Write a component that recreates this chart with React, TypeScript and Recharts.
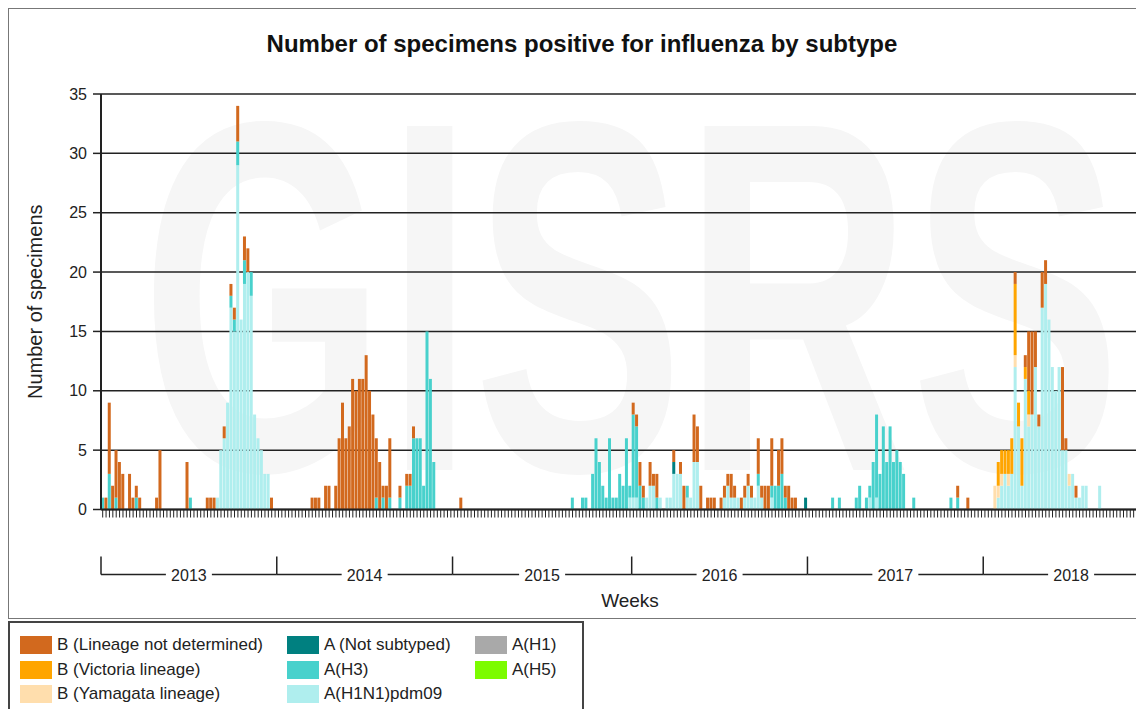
import React from "react";
import { BarChart, Bar, XAxis, YAxis, CartesianGrid } from "recharts";

// weekly counts, one row of values per year (2015 has 53 weeks)
const YEARS = [2013, 2014, 2015, 2016, 2017, 2018];
const WEEKS_IN_YEAR = [52, 52, 53, 52, 52, 52];
const Y_TICKS = [0, 5, 10, 15, 20, 25, 30, 35];

const bNotDetermined = [
  // 2013
  0, 1, 6, 2, 4, 4, 3, 0, 3, 1, 1, 1, 0, 0, 0, 0, 1, 5, 0, 0, 0, 0, 0, 0, 0, 4,
  0, 0, 0, 0, 0, 1, 1, 1, 0, 0, 1, 0, 1, 1, 3, 0, 2, 2, 0, 0, 0, 0, 0, 0, 1, 0,
  // 2014
  0, 0, 0, 0, 0, 0, 0, 0, 0, 0, 1, 1, 1, 0, 2, 2, 0, 2, 6, 9, 6, 7, 11, 10, 11, 11,
  13, 10, 8, 5, 4, 1, 2, 5, 0, 0, 1, 0, 1, 1, 1, 0, 0, 0, 0, 0, 0, 0, 0, 0, 0, 0,
  // 2015
  0, 0, 1, 0, 0, 0, 0, 0, 0, 0, 0, 0, 0, 0, 0, 0, 0, 0, 0, 0, 0, 0, 0, 0, 0, 0,
  0, 0, 0, 0, 0, 0, 0, 0, 0, 0, 0, 0, 0, 0, 0, 0, 0, 0, 0, 0, 0, 0, 0, 0, 0, 0, 0,
  // 2016
  1, 1, 2, 1, 0, 2, 1, 2, 0, 0, 0, 0, 1, 0, 1, 2, 0, 0, 4, 3, 2, 0, 1, 1, 1, 0,
  1, 1, 1, 2, 1, 0, 1, 1, 1, 1, 0, 3, 1, 2, 2, 4, 0, 3, 3, 1, 2, 1, 1, 0, 0, 0,
  // 2017
  0, 0, 0, 0, 0, 0, 0, 0, 0, 0, 0, 0, 0, 0, 0, 0, 0, 0, 0, 0, 0, 0, 0, 0, 0, 0,
  0, 0, 0, 0, 0, 0, 0, 0, 0, 0, 0, 0, 0, 0, 0, 0, 0, 0, 1, 0, 0, 1, 0, 0, 0, 0,
  // 2018
  0, 0, 0, 0, 0, 0, 0, 0, 0, 1, 0, 0, 1, 5, 7, 3, 1, 3, 2, 0, 0, 0, 0, 7, 1, 0,
  0, 1, 0, 0, 0, 0, 0, 0, 0, 0, 0, 0, 0, 0, 0, 0, 0, 0, 0, 0, 0, 0, 0, 0, 0, 0,
];

const bVictoria = [
  // 2013
  0, 0, 0, 0, 0, 0, 0, 0, 0, 0, 0, 0, 0, 0, 0, 0, 0, 0, 0, 0, 0, 0, 0, 0, 0, 0,
  0, 0, 0, 0, 0, 0, 0, 0, 0, 0, 0, 0, 0, 0, 0, 0, 0, 0, 0, 0, 0, 0, 0, 0, 0, 0,
  // 2014
  0, 0, 0, 0, 0, 0, 0, 0, 0, 0, 0, 0, 0, 0, 0, 0, 0, 0, 0, 0, 0, 0, 0, 0, 0, 0,
  0, 0, 0, 0, 0, 0, 0, 0, 0, 0, 0, 0, 0, 0, 0, 0, 0, 0, 0, 0, 0, 0, 0, 0, 0, 0,
  // 2015
  0, 0, 0, 0, 0, 0, 0, 0, 0, 0, 0, 0, 0, 0, 0, 0, 0, 0, 0, 0, 0, 0, 0, 0, 0, 0,
  0, 0, 0, 0, 0, 0, 0, 0, 0, 0, 0, 0, 0, 0, 0, 0, 0, 0, 0, 0, 0, 0, 0, 0, 0, 0, 0,
  // 2016
  0, 0, 0, 0, 0, 0, 0, 0, 0, 0, 0, 0, 0, 0, 0, 0, 0, 0, 0, 0, 0, 0, 0, 0, 0, 0,
  0, 0, 0, 0, 0, 0, 0, 0, 0, 0, 0, 0, 0, 0, 0, 0, 0, 0, 0, 0, 0, 0, 0, 0, 0, 0,
  // 2017
  0, 0, 0, 0, 0, 0, 0, 0, 0, 0, 0, 0, 0, 0, 0, 0, 0, 0, 0, 0, 0, 0, 0, 0, 0, 0,
  0, 0, 0, 0, 0, 0, 0, 0, 0, 0, 0, 0, 0, 0, 0, 0, 0, 0, 0, 0, 0, 0, 0, 0, 0, 0,
  // 2018
  0, 0, 0, 0, 2, 2, 2, 2, 3, 6, 2, 4, 1, 2, 0, 0, 0, 0, 0, 0, 0, 0, 0, 0, 0, 0,
  0, 0, 0, 0, 0, 0, 0, 0, 0, 0, 0, 0, 0, 0, 0, 0, 0, 0, 0, 0, 0, 0, 0, 0, 0, 0,
];

const bYamagata = [
  // 2013
  0, 0, 0, 0, 0, 0, 0, 0, 0, 0, 0, 0, 0, 0, 0, 0, 0, 0, 0, 0, 0, 0, 0, 0, 0, 0,
  0, 0, 0, 0, 0, 0, 0, 0, 0, 0, 0, 0, 0, 0, 0, 0, 0, 0, 0, 0, 0, 0, 0, 0, 0, 0,
  // 2014
  0, 0, 0, 0, 0, 0, 0, 0, 0, 0, 0, 0, 0, 0, 0, 0, 0, 0, 0, 0, 0, 0, 0, 0, 0, 0,
  0, 0, 0, 0, 0, 0, 0, 0, 0, 0, 0, 0, 0, 0, 0, 0, 0, 0, 0, 0, 0, 0, 0, 0, 0, 0,
  // 2015
  0, 0, 0, 0, 0, 0, 0, 0, 0, 0, 0, 0, 0, 0, 0, 0, 0, 0, 0, 0, 0, 0, 0, 0, 0, 0,
  0, 0, 0, 0, 0, 0, 0, 0, 0, 0, 0, 0, 0, 0, 0, 0, 0, 0, 0, 0, 0, 0, 0, 0, 0, 0, 0,
  // 2016
  0, 0, 0, 0, 0, 0, 0, 0, 0, 0, 0, 0, 0, 0, 0, 0, 0, 0, 0, 0, 0, 0, 0, 0, 0, 0,
  0, 0, 0, 0, 0, 0, 0, 0, 0, 0, 0, 0, 0, 0, 0, 0, 0, 0, 0, 0, 0, 0, 0, 0, 0, 0,
  // 2017
  0, 0, 0, 0, 0, 0, 0, 0, 0, 0, 0, 0, 0, 0, 0, 0, 0, 0, 0, 0, 0, 0, 0, 0, 0, 0,
  0, 0, 0, 0, 0, 0, 0, 0, 0, 0, 0, 0, 0, 0, 0, 0, 0, 0, 0, 0, 0, 0, 0, 0, 0, 0,
  // 2018
  0, 0, 0, 2, 1, 1, 0, 1, 0, 1, 0, 0, 0, 1, 0, 0, 0, 0, 0, 0, 0, 0, 0, 0, 0, 1,
  0, 0, 0, 0, 0, 0, 0, 0, 0, 0, 0, 0, 0, 0, 0, 0, 0, 0, 0, 0, 0, 0, 0, 0, 0, 0,
];

const aNotSubtyped = [
  // 2013
  0, 0, 0, 0, 0, 0, 0, 0, 0, 0, 0, 0, 0, 0, 0, 0, 0, 0, 0, 0, 0, 0, 0, 0, 0, 0,
  0, 0, 0, 0, 0, 0, 0, 0, 0, 0, 0, 0, 0, 0, 0, 0, 0, 0, 0, 0, 0, 0, 0, 0, 0, 0,
  // 2014
  0, 0, 0, 0, 0, 0, 0, 0, 0, 0, 0, 0, 0, 0, 0, 0, 0, 0, 0, 0, 0, 0, 0, 0, 0, 0,
  0, 0, 0, 0, 0, 0, 0, 0, 0, 0, 0, 0, 0, 0, 0, 0, 0, 0, 0, 0, 0, 0, 0, 0, 0, 0,
  // 2015
  0, 0, 0, 0, 0, 0, 0, 0, 0, 0, 0, 0, 0, 0, 0, 0, 0, 0, 0, 0, 0, 0, 0, 0, 0, 0,
  0, 0, 0, 0, 0, 0, 0, 0, 0, 0, 0, 0, 0, 0, 0, 0, 0, 0, 0, 0, 0, 0, 0, 0, 0, 0, 0,
  // 2016
  0, 0, 0, 0, 0, 0, 0, 0, 0, 0, 0, 0, 1, 0, 0, 0, 0, 0, 0, 0, 0, 0, 0, 0, 0, 0,
  0, 0, 0, 0, 0, 0, 0, 0, 0, 0, 0, 0, 0, 0, 0, 0, 0, 0, 0, 0, 0, 0, 0, 0, 0, 1,
  // 2017
  0, 0, 0, 0, 0, 0, 0, 0, 0, 0, 0, 0, 0, 0, 0, 0, 0, 0, 0, 0, 0, 0, 0, 0, 0, 0,
  0, 0, 0, 0, 0, 0, 0, 0, 0, 0, 0, 0, 0, 0, 0, 0, 0, 0, 0, 0, 0, 0, 0, 0, 0, 0,
  // 2018
  0, 0, 0, 0, 0, 0, 0, 0, 0, 0, 0, 0, 0, 0, 0, 0, 0, 0, 0, 0, 0, 0, 0, 0, 0, 0,
  0, 0, 0, 0, 0, 0, 0, 0, 0, 0, 0, 0, 0, 0, 0, 0, 0, 0, 0, 0, 0, 0, 0, 0, 0, 0,
];

const aH3 = [
  // 2013
  1, 0, 3, 0, 1, 0, 0, 0, 0, 0, 1, 0, 0, 0, 0, 0, 0, 0, 0, 0, 0, 0, 0, 0, 0, 0,
  1, 0, 0, 0, 0, 0, 0, 0, 0, 0, 0, 0, 1, 1, 2, 0, 2, 0, 2, 0, 0, 0, 0, 0, 0, 0,
  // 2014
  0, 0, 0, 0, 0, 0, 0, 0, 0, 0, 0, 0, 0, 0, 0, 0, 0, 0, 0, 0, 0, 0, 0, 0, 0, 0,
  0, 0, 0, 1, 0, 1, 0, 1, 0, 0, 1, 0, 2, 2, 6, 6, 6, 2, 15, 11, 4, 0, 0, 0, 0, 0,
  // 2015
  0, 0, 0, 0, 0, 0, 0, 0, 0, 0, 0, 0, 0, 0, 0, 0, 0, 0, 0, 0, 0, 0, 0, 0, 0, 0,
  0, 0, 0, 0, 0, 0, 0, 0, 0, 1, 0, 0, 1, 1, 0, 3, 6, 4, 2, 1, 6, 1, 1, 3, 2, 6, 1,
  // 2016
  7, 6, 2, 1, 0, 0, 0, 1, 0, 0, 0, 0, 0, 0, 0, 0, 1, 0, 0, 0, 0, 0, 0, 0, 0, 0,
  0, 0, 0, 0, 0, 0, 0, 0, 0, 0, 0, 1, 0, 0, 0, 1, 2, 2, 3, 1, 0, 0, 0, 0, 0, 0,
  // 2017
  0, 0, 0, 0, 0, 0, 0, 1, 0, 1, 0, 0, 0, 0, 1, 2, 0, 1, 1, 4, 7, 3, 7, 4, 7, 4,
  5, 4, 3, 0, 0, 1, 0, 0, 0, 0, 0, 0, 0, 0, 0, 0, 1, 0, 1, 0, 0, 0, 0, 0, 0, 0,
  // 2018
  0, 0, 0, 0, 0, 0, 0, 0, 0, 0, 0, 0, 0, 0, 0, 0, 0, 0, 0, 0, 0, 0, 0, 0, 0, 0,
  0, 0, 0, 0, 0, 0, 0, 0, 0, 0, 0, 0, 0, 0, 0, 0, 0, 0, 0, 0, 0, 0, 0, 0, 0, 0,
];

const aH1N1pdm09 = [
  // 2013
  0, 0, 0, 0, 0, 0, 0, 0, 0, 0, 0, 0, 0, 0, 0, 0, 0, 0, 0, 0, 0, 0, 0, 0, 0, 0,
  0, 0, 0, 0, 0, 0, 0, 0, 1, 5, 6, 9, 17, 15, 29, 16, 19, 20, 18, 8, 6, 5, 3, 3, 0, 0,
  // 2014
  0, 0, 0, 0, 0, 0, 0, 0, 0, 0, 0, 0, 0, 0, 0, 0, 0, 0, 0, 0, 0, 0, 0, 0, 0, 0,
  0, 0, 0, 0, 0, 0, 0, 0, 0, 0, 0, 0, 0, 0, 0, 0, 0, 0, 0, 0, 0, 0, 0, 0, 0, 0,
  // 2015
  0, 0, 0, 0, 0, 0, 0, 0, 0, 0, 0, 0, 0, 0, 0, 0, 0, 0, 0, 0, 0, 0, 0, 0, 0, 0,
  0, 0, 0, 0, 0, 0, 0, 0, 0, 0, 0, 0, 0, 0, 0, 0, 0, 0, 0, 0, 0, 0, 0, 0, 0, 0, 1,
  // 2016
  1, 1, 0, 0, 1, 2, 2, 0, 1, 0, 1, 1, 3, 3, 3, 0, 1, 1, 4, 4, 0, 0, 0, 0, 0, 0,
  0, 1, 2, 1, 1, 1, 0, 1, 2, 1, 1, 2, 1, 0, 0, 1, 0, 0, 0, 0, 0, 0, 0, 0, 0, 0,
  // 2017
  0, 0, 0, 0, 0, 0, 0, 0, 0, 0, 0, 0, 0, 0, 0, 0, 0, 0, 1, 0, 1, 0, 0, 0, 0, 0,
  0, 0, 0, 0, 0, 0, 0, 0, 0, 0, 0, 0, 0, 0, 0, 0, 0, 0, 0, 0, 0, 0, 0, 0, 0, 0,
  // 2018
  0, 0, 0, 0, 1, 2, 3, 2, 3, 12, 7, 2, 11, 7, 8, 12, 7, 17, 19, 16, 12, 10, 12, 5, 5, 2,
  3, 1, 1, 2, 2, 0, 0, 0, 2, 0, 0, 0, 0, 0, 0, 0, 0, 0, 0, 0, 0, 0, 0, 0, 0, 0,
];

// stacked bottom to top
const SERIES = [
  { key: "aH1N1pdm09", name: "A(H1N1)pdm09", color: "#afeeee", values: aH1N1pdm09 },
  { key: "aH3", name: "A(H3)", color: "#48d1cc", values: aH3 },
  { key: "aNotSubtyped", name: "A (Not subtyped)", color: "#008080", values: aNotSubtyped },
  { key: "bYamagata", name: "B (Yamagata lineage)", color: "#ffdead", values: bYamagata },
  { key: "bVictoria", name: "B (Victoria lineage)", color: "#ffa500", values: bVictoria },
  { key: "bNotDetermined", name: "B (Lineage not determined)", color: "#d2691e", values: bNotDetermined },
];

// legend columns as laid out in the original
const LEGEND = [
  [
    { name: "B (Lineage not determined)", color: "#d2691e" },
    { name: "B (Victoria lineage)", color: "#ffa500" },
    { name: "B (Yamagata lineage)", color: "#ffdead" },
  ],
  [
    { name: "A (Not subtyped)", color: "#008080" },
    { name: "A(H3)", color: "#48d1cc" },
    { name: "A(H1N1)pdm09", color: "#afeeee" },
  ],
  [
    { name: "A(H1)", color: "#a9a9a9" },
    { name: "A(H5)", color: "#7cfc00" },
  ],
];

const FONT = '"Liberation Sans", Arial, sans-serif';
const CHART_W = 1170;
const CHART_H = 600;
const Y_AXIS_W = 92;
const RIGHT = 20;
const TOTAL_WEEKS = WEEKS_IN_YEAR.reduce((a, b) => a + b, 0);
const BAND = (CHART_W - RIGHT - Y_AXIS_W) / TOTAL_WEEKS;

const data: { [k: string]: string | number }[] = [];
{
  let idx = 0;
  YEARS.forEach((year, yi) => {
    for (let w = 1; w <= WEEKS_IN_YEAR[yi]; w++) {
      const row: { [k: string]: string | number } = { key: `${year}-${w}` };
      SERIES.forEach((s) => {
        row[s.key] = s.values[idx];
      });
      data.push(row);
      idx++;
    }
  });
}

// one small tick per week; the first week of a year also draws the year bracket and label
const WeekTick = (props: any) => {
  const { x, y, payload } = props;
  const [yr, wk] = String(payload.value).split("-").map(Number);
  const n = WEEKS_IN_YEAR[YEARS.indexOf(yr)];
  const start = x - BAND / 2;
  const mid = start + (n * BAND) / 2;
  return (
    <g>
      <line x1={x} y1={y} x2={x} y2={y + 8} stroke="#222" strokeWidth={1} />
      {wk === 1 && (
        <g>
          <line x1={start} y1={y + 47} x2={start} y2={y + 65} stroke="#222" strokeWidth={1.5} />
          <line x1={start} y1={y + 65} x2={start + n * BAND} y2={y + 65} stroke="#222" strokeWidth={1.5} />
          <rect x={mid - 23} y={y + 55} width={46} height={20} fill="#fff" />
          <text x={mid} y={y + 71} textAnchor="middle" fontSize={16} fill="#222" fontFamily={FONT}>
            {yr}
          </text>
        </g>
      )}
    </g>
  );
};

export default function App() {
  return (
    <div
      style={{
        position: "relative",
        width: 1136,
        height: 709,
        overflow: "hidden",
        marginBottom: -8,
        fontFamily: FONT,
        color: "#222",
      }}
    >
      <div
        style={{
          position: "absolute",
          left: 0,
          top: 0,
          width: 1200,
          height: 609,
          border: "1px solid #777",
          background: "#fff",
        }}
      >
        {/* faint GISRS watermark behind the plot */}
        <svg
          width={1200}
          height={609}
          style={{ position: "absolute", left: 0, top: 0 }}
        >
          <text
            x={622}
            y={461}
            textAnchor="middle"
            fontSize={500}
            fontWeight="bold"
            fontFamily={FONT}
            fill="#f6f6f6"
            textLength={980}
            lengthAdjust="spacingAndGlyphs"
          >
            GISRS
          </text>
        </svg>
        <div
          style={{
            position: "absolute",
            left: 0,
            top: 21,
            width: 1146,
            textAlign: "center",
            fontSize: 24,
            fontWeight: "bold",
            color: "#111",
          }}
        >
          Number of specimens positive for influenza by subtype
        </div>
        <div style={{ position: "absolute", left: 0, top: 0 }}>
          <BarChart
            width={CHART_W}
            height={CHART_H}
            data={data}
            barCategoryGap={0}
            barGap={0}
            margin={{ top: 85, right: RIGHT, bottom: 9.5, left: 0 }}
          >
            <CartesianGrid vertical={false} stroke="#222" strokeWidth={1.5} />
            <XAxis
              dataKey="key"
              interval={0}
              tickLine={false}
              tickSize={0}
              tickMargin={0}
              height={90}
              tick={<WeekTick />}
              axisLine={{ stroke: "#222", strokeWidth: 2 }}
            />
            <YAxis
              width={Y_AXIS_W}
              domain={[0, 35]}
              ticks={Y_TICKS}
              interval={0}
              tickSize={8}
              tickMargin={6}
              tick={{ fontSize: 16, fill: "#222", fontFamily: FONT }}
              tickLine={{ stroke: "#222", strokeWidth: 1.5 }}
              axisLine={{ stroke: "#222", strokeWidth: 2 }}
              label={{
                value: "Number of specimens",
                angle: -90,
                position: "insideLeft",
                offset: 26,
                style: { textAnchor: "middle", fontSize: 20, fill: "#222", fontFamily: FONT },
              }}
            />
            {SERIES.map((s) => (
              <Bar
                key={s.key}
                dataKey={s.key}
                name={s.name}
                stackId="a"
                fill={s.color}
                isAnimationActive={false}
              />
            ))}
          </BarChart>
        </div>
        <div
          style={{
            position: "absolute",
            left: 0,
            top: 581,
            width: 1242,
            textAlign: "center",
            fontSize: 19,
          }}
        >
          Weeks
        </div>
      </div>
      <div
        style={{
          position: "absolute",
          left: 0,
          top: 613,
          width: 572,
          height: 94,
          border: "2px solid #444",
          background: "#fff",
        }}
      >
        {LEGEND.map((col, ci) => (
          <div
            key={ci}
            style={{ position: "absolute", left: [10, 277, 465][ci], top: 10 }}
          >
            {col.map((item) => (
              <div
                key={item.name}
                style={{ display: "flex", alignItems: "center", height: 24.5, fontSize: 17 }}
              >
                <span
                  style={{
                    display: "inline-block",
                    width: 32,
                    height: 18,
                    background: item.color,
                    marginRight: 5,
                  }}
                />
                {item.name}
              </div>
            ))}
          </div>
        ))}
      </div>
    </div>
  );
}
